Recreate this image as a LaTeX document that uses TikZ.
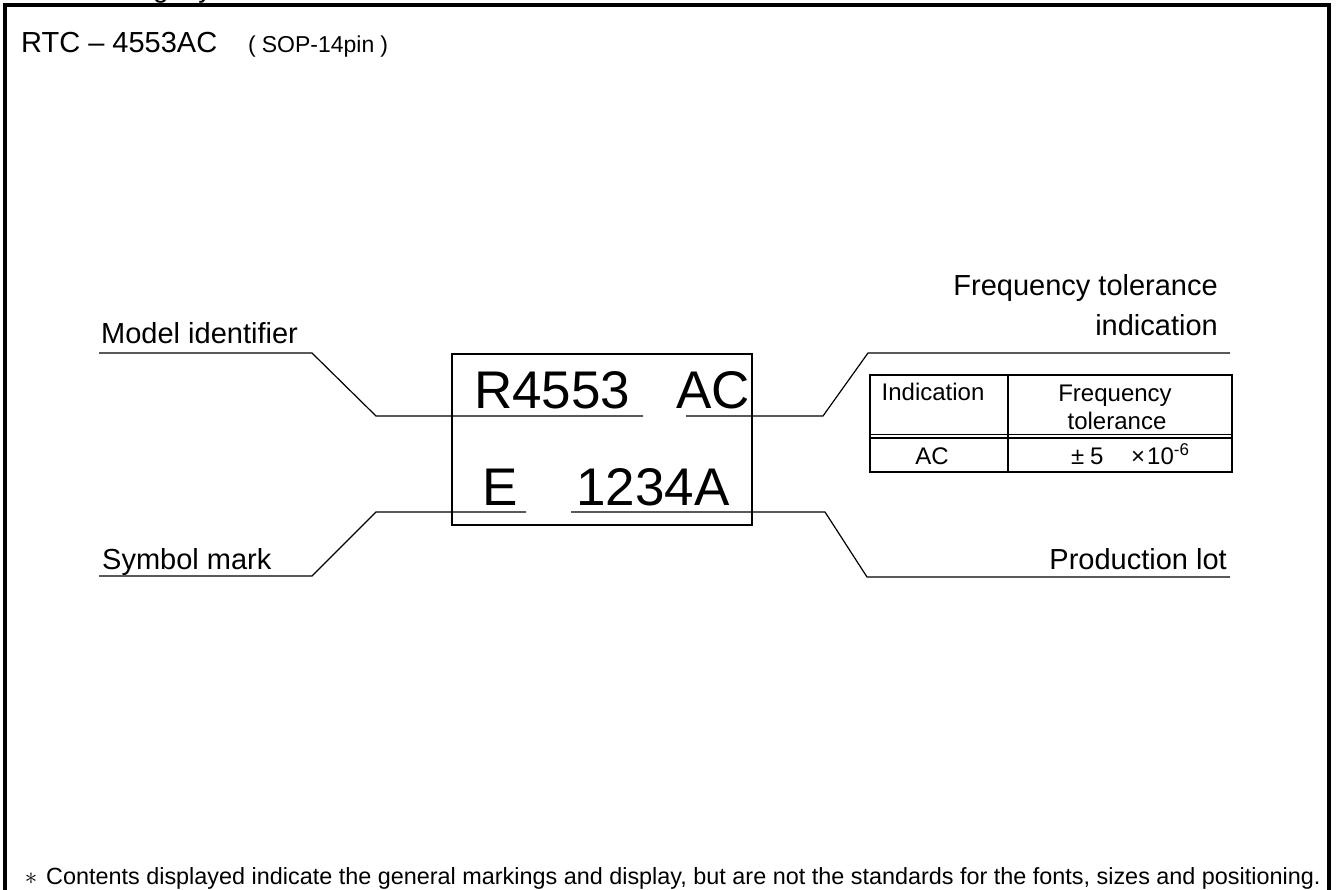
\documentclass[tikz,border=0pt]{standalone}
\usepackage{fontspec}
\setmainfont{Liberation Sans}
\begin{document}
\begin{tikzpicture}[x=1pt,y=-1pt,
  lbl/.style={inner sep=0pt, font=\fontsize{29}{34}\selectfont},
  big/.style={inner sep=0pt, font=\fontsize{53}{60}\selectfont},
  tbl/.style={inner sep=0pt, font=\fontsize{24}{28}\selectfont},
  small/.style={inner sep=0pt, font=\fontsize{23}{26}\selectfont},
  leader/.style={line width=1.2pt},
  frame/.style={line width=4pt},
  tline/.style={line width=1.8pt},
]
\useasboundingbox (0,0) rectangle (1336,890);
% heading cut off by the top edge (only descenders show)
\begin{scope}
\clip (0,0) rectangle (1336,5);
\node[inner sep=0pt, anchor=base west, font=\fontsize{28}{32}\selectfont] (head) at (69,-2) {Marking layout};
\end{scope}
% outer frame
\coordinate (bl) at (5,890);
\coordinate (tl) at (5,5);
\coordinate (tr) at (1329,5);
\coordinate (br) at (1329,890);
\draw[frame] (bl) -- (tl) -- (tr) -- (br);

% title
\node[lbl, anchor=base west] (title) at (21,53) {RTC – 4553AC};
\node[small, anchor=base west] (pkg) at (248,53) {(\hspace{6pt}SOP-14pin\hspace{6pt})};

% chip
\node[draw, line width=2.2pt, minimum width=300, minimum height=171, anchor=north west, inner sep=0pt] (chip) at (451,353) {};
\node[big, anchor=base west] (model) at (474,409) {R4553};
\node[big, anchor=base west] (ac) at (676,409) {AC};
\node[big, anchor=base west] (e) at (482,505) {E};
\node[big, anchor=base west] (lot) at (576,505) {1234A};

% model identifier
\node[lbl, anchor=base west] (lmodel) at (101,344) {Model identifier};
\coordinate (m1) at (99,353);
\coordinate (m2) at (312,353);
\coordinate (m3) at (376,416);
\coordinate (m4) at (643,416);
\draw[leader] (m1) -- (m2) -- (m3) -- (m4);

% symbol mark
\node[lbl, anchor=base west] (lsym) at (102,569) {Symbol mark};
\coordinate (s1) at (99,576);
\coordinate (s2) at (312,576);
\coordinate (s3) at (376,512);
\coordinate (s4) at (526,512);
\draw[leader] (s1) -- (s2) -- (s3) -- (s4);

% frequency tolerance
\node[lbl, anchor=base east] (lfreq1) at (1218,296) {Frequency tolerance};
\node[lbl, anchor=base east] (lfreq2) at (1218,336) {indication};
\coordinate (f1) at (686,416);
\coordinate (f2) at (823,416);
\coordinate (f3) at (868,353);
\coordinate (f4) at (1230,353);
\draw[leader] (f1) -- (f2) -- (f3) -- (f4);

% production lot
\node[lbl, anchor=base east] (lprod) at (1227,569) {Production lot};
\coordinate (p1) at (571,512);
\coordinate (p2) at (825,512);
\coordinate (p3) at (867,577);
\coordinate (p4) at (1230,577);
\draw[leader] (p1) -- (p2) -- (p3) -- (p4);

% table
\coordinate (t1) at (870,375);
\coordinate (t2) at (1232,472);
\draw[tline] (t1) rectangle (t2);
\coordinate (c1) at (1008,375);
\coordinate (c2) at (1008,472);
\draw[line width=1.4pt] (c1) -- (c2);
\coordinate (h1) at (870,434.3);
\coordinate (h2) at (1232,434.3);
\coordinate (h3) at (870,437.9);
\coordinate (h4) at (1232,437.9);
\draw[line width=1.5pt] (h1) -- (h2);
\draw[line width=1.5pt] (h3) -- (h4);
\node[tbl, anchor=base] (ind) at (933,401) {Indication};
\node[tbl, anchor=base] (fq1) at (1115,402) {Frequency};
\node[tbl, anchor=base] (fq2) at (1117,429) {tolerance};
\node[tbl, anchor=base] (acv) at (932,464) {AC};
\node[tbl, anchor=base west] (pm) at (1071,464) {±};
\node[tbl, anchor=base west] (five) at (1090,464) {5};
\node[tbl, anchor=base west] (times) at (1131,464) {×};
\node[tbl, anchor=base west] (ten) at (1147,464) {10\raisebox{9pt}{\fontsize{17}{17}\selectfont -6}};

% footnote
\node[inner sep=0pt, anchor=base] (ast) at (31,884) {\fontsize{24}{24}\selectfont$\ast$};
\node[inner sep=0pt, anchor=base west, font=\fontsize{23.4}{26}\selectfont] (note) at (46,884) {Contents displayed indicate the general markings and display, but are not the standards for the fonts, sizes and positioning.};
\end{tikzpicture}
\end{document}
